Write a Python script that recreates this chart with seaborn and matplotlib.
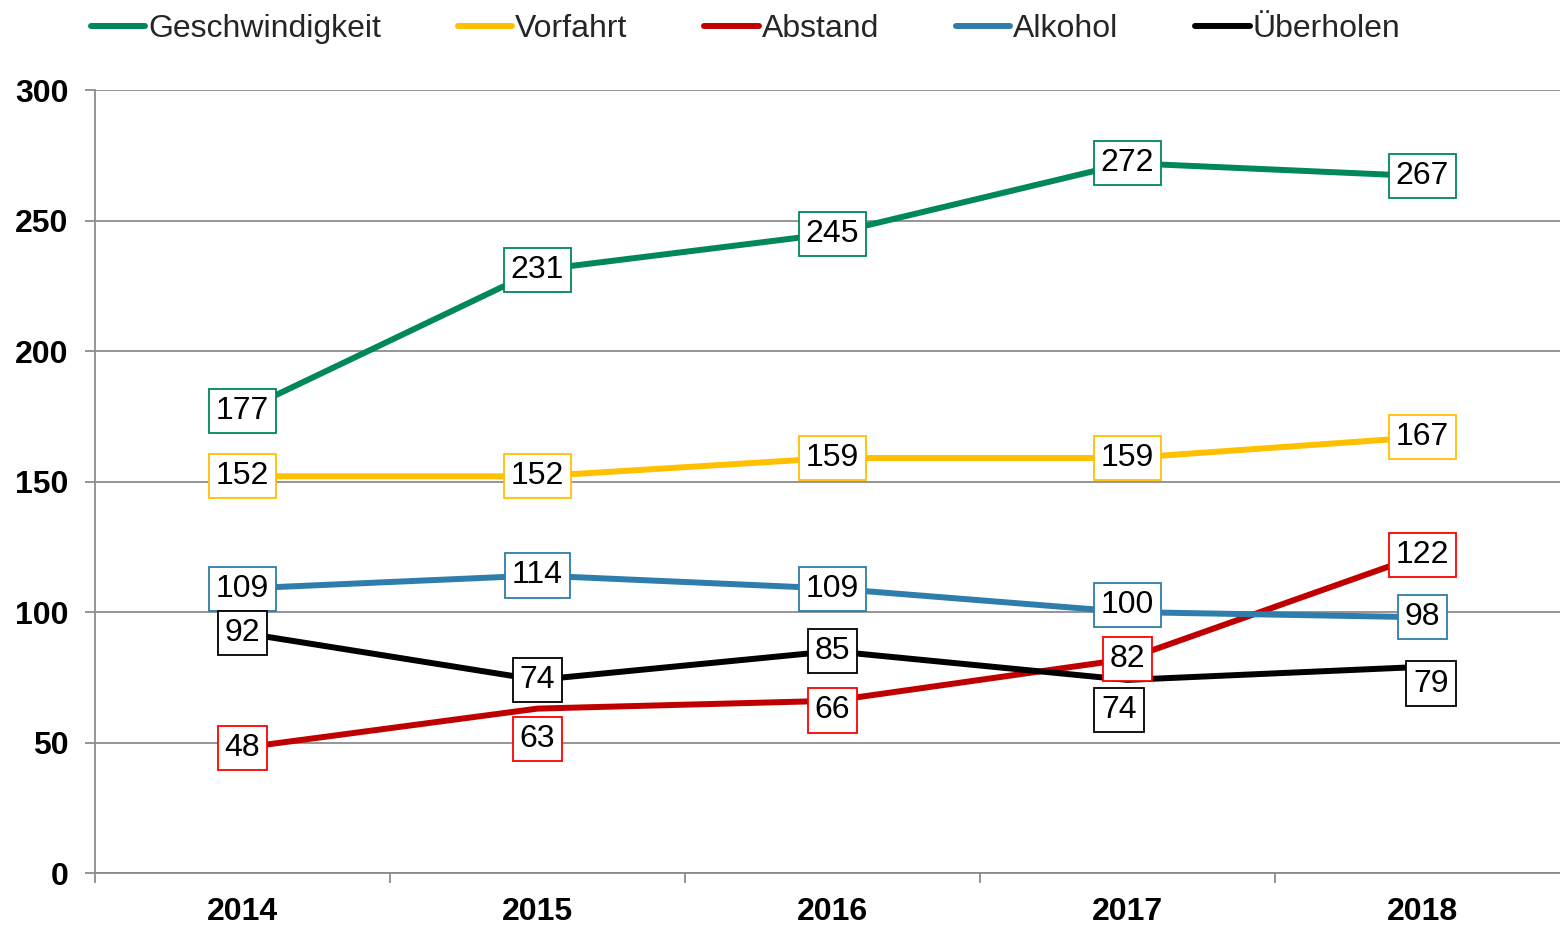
import pandas as pd
import seaborn as sns
import matplotlib.pyplot as plt
from matplotlib.lines import Line2D
from matplotlib.ticker import MultipleLocator, FixedLocator

# chart data
years = ['2014', '2015', '2016', '2017', '2018']
geschwindigkeit = [177, 231, 245, 272, 267]
vorfahrt = [152, 152, 159, 159, 167]
abstand = [48, 63, 66, 82, 122]
alkohol = [109, 114, 109, 100, 98]
ueberholen = [92, 74, 85, 74, 79]

series_names = ['Geschwindigkeit', 'Vorfahrt', 'Abstand', 'Alkohol', 'Überholen']
series_values = [geschwindigkeit, vorfahrt, abstand, alkohol, ueberholen]

line_colors = ['#00875A', '#FFC000', '#C00000', '#2E7DAA', '#000000']
box_colors = ['#00875A', '#FFC000', '#FF0000', '#2E7DAA', '#000000']

# label nudges in points (dx, dy) where labels would overlap the lines
label_offsets = {
    ('Abstand', 1): (0, -22),
    ('Abstand', 2): (0, -7),
    ('Überholen', 3): (-6, -22),
    ('Überholen', 4): (6, -12),
    ('Alkohol', 3): (0, 5),
}

# build long-form frame
rows = []
for name, vals in zip(series_names, series_values):
    for yr, v in zip(years, vals):
        rows.append({'Jahr': yr, 'Anzahl': v, 'Art': name})
df = pd.DataFrame(rows)

sns.set_theme(style='white')
plt.rcParams['font.family'] = ['Liberation Sans', 'DejaVu Sans']

fig = plt.figure(figsize=(15.6, 9.26), dpi=100)
# plot area runs slightly past the right edge, like the original
ax = fig.add_axes([0.0609, 0.0572, 0.9455, 0.8456])

sns.lineplot(data=df, x='Jahr', y='Anzahl', hue='Art', hue_order=series_names,
             palette=line_colors, linewidth=4.3, legend=False, ax=ax,
             sort=False)

# data labels
for name, vals, bc in zip(series_names, series_values, box_colors):
    for i, v in enumerate(vals):
        dx, dy = label_offsets.get((name, i), (0, 0))
        ax.annotate(str(v), (i, v), xytext=(dx, dy), textcoords='offset points',
                    ha='center', va='center', fontsize=23, color='black',
                    bbox=dict(boxstyle='square,pad=0.22', fc='white', ec=bc, lw=1.3),
                    zorder=5)

# axes styling
ax.set_xlim(-0.5, 4.5)
ax.set_ylim(0, 300)
ax.yaxis.set_major_locator(MultipleLocator(50))
ax.grid(axis='y', color='#8C8C8C', linewidth=1.3)
ax.set_axisbelow(True)
for side in ['top', 'right']:
    ax.spines[side].set_visible(False)
for side in ['left', 'bottom']:
    ax.spines[side].set_color('#8C8C8C')
    ax.spines[side].set_linewidth(1.3)

ax.xaxis.set_major_locator(FixedLocator([-0.5, 0.5, 1.5, 2.5, 3.5, 4.5]))
ax.xaxis.set_minor_locator(FixedLocator(range(len(years))))
ax.set_xticklabels([], minor=False)
ax.set_xticklabels(years, minor=True, fontsize=23, fontweight='bold', color='black')
ax.tick_params(axis='x', which='major', length=7, width=1.3, color='#8C8C8C', direction='out', bottom=True)
ax.tick_params(axis='x', which='minor', length=0, pad=17)
ax.tick_params(axis='y', length=7, width=1.3, color='#8C8C8C', direction='out', left=True, pad=12,
               labelcolor='black')
for lbl in ax.get_yticklabels():
    lbl.set_fontsize(23)
    lbl.set_fontweight('bold')
ax.set_xlabel('')
ax.set_ylabel('')

# legend
handles = [Line2D([0], [0], color=c, lw=4.3, solid_capstyle='round') for c in line_colors]
fig.legend(handles, series_names, loc='center left', bbox_to_anchor=(0.05, 0.969),
           ncol=5, frameon=False, fontsize=23, handlelength=1.7, handletextpad=0.1,
           columnspacing=2.4, borderaxespad=0)

fig.savefig('out.png', dpi=100)
